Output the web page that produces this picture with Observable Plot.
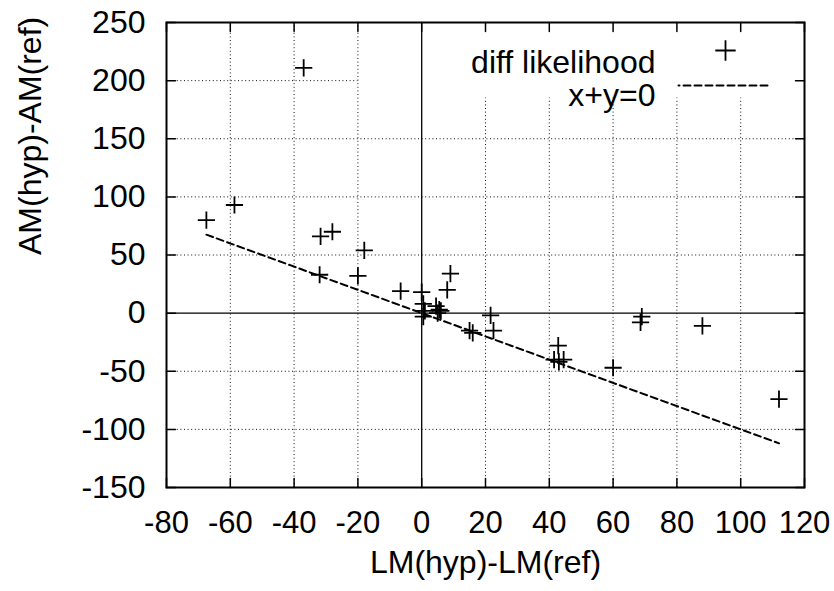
<!DOCTYPE html>
<html><head><meta charset="utf-8">
<script src="https://cdn.jsdelivr.net/npm/d3@7"></script>
<script src="https://cdn.jsdelivr.net/npm/@observablehq/plot@0.6"></script>
<style>body{margin:0;background:#fff}</style>
</head><body><div id="chart"></div>
<script>
// Data
const lmDiff = [-37, -67.5, -58.7, -31.7, -28, -18, -32, -20, 9, 8, -6.6, 0, 0.5, 1, 0.5, 4.5, 5.5, 5, 6, 15, 16, 21.6, 22.5, 42.8, 41.5, 43, 44.5, 60, 68.6, 69, 88, 112];
const amDiff = [211, 80, 93, 66, 70, 54, 33, 32, 34, 20, 19, 18, 8, 2, -3, 6, 3, 0, 2, -15, -17, -2, -15, -28, -40, -42, -40, -47, -8, -3, -11, -74];
const xTicks = [-80, -60, -40, -20, 0, 20, 40, 60, 80, 100, 120];
const yTicks = [-150, -100, -50, 0, 50, 100, 150, 200, 250];
const legendLabels = ["diff likelihood", "x+y=0"];
const xLabel = "LM(hyp)-LM(ref)";
const yLabel = "AM(hyp)-AM(ref)";

const points = lmDiff.map((x, i) => ({x, y: amDiff[i]}));
const [xMin, xMax] = d3.extent(lmDiff);
const refLine = [xMin, xMax].map(x => ({x, y: -x}));

// grid layout (gnuplot leaves the key area clear)
const keyLeft = -20, keyBottom = 185;
const xGridFull = xTicks.filter(v => v > -80 && v < keyLeft + 1 && v !== 0);
const xGridShort = xTicks.filter(v => v > 0 && v < 120);
const yGridFull = yTicks.filter(v => v > -150 && v < keyBottom && v !== 0);
const yGridShort = yTicks.filter(v => v > keyBottom && v < 250);

const lineShape = {draw(ctx, l) { ctx.moveTo(0, 0); ctx.lineTo(0, -l); }};
const dotted = {stroke: "#111", strokeWidth: 1, strokeDasharray: "1,2.6"};
const tickOpts = {length: 9, anchor: "start", shape: lineShape, stroke: "black", strokeWidth: 1.5};

const chart = Plot.plot({
  width: 834, height: 591,
  marginLeft: 166, marginRight: 30, marginTop: 22, marginBottom: 104,
  style: {fontFamily: "'Liberation Sans', Arial, Helvetica, sans-serif", fontSize: "32px", background: "white", color: "black"},
  x: {domain: [-80, 120]},
  y: {domain: [-150, 250]},
  marks: [
    Plot.ruleX(xGridFull, {x: d => d, ...dotted}),
    Plot.ruleX(xGridShort, {x: d => d, y1: -150, y2: keyBottom, ...dotted}),
    Plot.ruleY(yGridFull, {y: d => d, ...dotted}),
    Plot.ruleY(yGridShort, {y: d => d, x1: -80, x2: keyLeft, ...dotted}),
    Plot.ruleX([0], {x: d => d, stroke: "black", strokeWidth: 1.3}),
    Plot.ruleY([0], {y: d => d, stroke: "black", strokeWidth: 1.3}),
    Plot.vector(xTicks, {x: d => d, frameAnchor: "bottom", rotate: 0, ...tickOpts}),
    Plot.vector(xTicks, {x: d => d, frameAnchor: "top", rotate: 180, ...tickOpts}),
    Plot.vector(yTicks, {y: d => d, frameAnchor: "left", rotate: 90, ...tickOpts}),
    Plot.vector(yTicks, {y: d => d, frameAnchor: "right", rotate: -90, ...tickOpts}),
    Plot.frame({stroke: "black", strokeWidth: 2}),
    Plot.line(refLine, {x: "x", y: "y", stroke: "black", strokeWidth: 2, strokeDasharray: "7,4"}),
    Plot.dot(points, {x: "x", y: "y", symbol: "plus", r: 5.6, stroke: "black", strokeWidth: 1.8}),
    Plot.axisX(xTicks, {anchor: "bottom", tickSize: 0, tickPadding: 23, fontSize: 31, tickFormat: d => String(d), label: null}),
    Plot.axisY(yTicks, {anchor: "left", tickSize: 0, tickPadding: 21, fontSize: 32, tickFormat: d => String(d), label: null}),
    Plot.text([xLabel], {frameAnchor: "bottom", dy: 85, text: d => d, fontSize: 32, fill: "black"}),
    Plot.text([yLabel], {frameAnchor: "left", dx: -136, rotate: -90, text: d => d, fontSize: 32, fill: "black"}),
    // key
    Plot.text([legendLabels[0]], {frameAnchor: "top-right", dx: -149, dy: 28, textAnchor: "end", text: d => d, fontSize: 32, fill: "black"}),
    Plot.dot([legendLabels[0]], {frameAnchor: "top-right", dx: -79, dy: 28, symbol: "plus", r: 6.6, stroke: "black", strokeWidth: 1.8}),
    Plot.text([legendLabels[1]], {frameAnchor: "top-right", dx: -149, dy: 61, textAnchor: "end", text: d => d, fontSize: 32, fill: "black"}),
    Plot.vector([legendLabels[1]], {frameAnchor: "top-right", dx: -37, dy: 63, rotate: -90, length: 89, anchor: "start", shape: lineShape, stroke: "black", strokeWidth: 2, strokeDasharray: "7,4"})
  ]
});
document.getElementById("chart").appendChild(chart);
</script>
</body></html>
